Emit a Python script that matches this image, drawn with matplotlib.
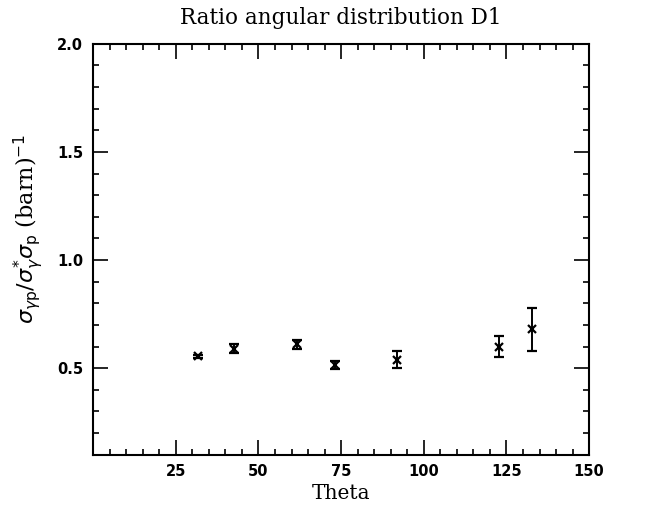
import numpy as np
import matplotlib.pyplot as plt
from matplotlib.ticker import MultipleLocator

# data
theta = [31.6, 42.7, 61.6, 73.1, 91.8, 122.8, 132.6]
ratio = [0.555, 0.59, 0.61, 0.515, 0.54, 0.60, 0.68]
err = [0.008, 0.02, 0.02, 0.02, 0.04, 0.05, 0.10]

xticks = [25, 50, 75, 100, 125, 150]
yticks = [0.5, 1.0, 1.5, 2.0]

fig = plt.figure(figsize=(6.51, 5.15), dpi=100)
ax = fig.add_axes([0.143, 0.117, 0.762, 0.798])

ax.errorbar(theta, ratio, yerr=err, fmt='x', color='black', ms=6, mew=1.6,
            elinewidth=1.4, capsize=3.5, capthick=1.4)

ax.set_xlim(0, 150)
ax.set_ylim(0.1, 2.0)
ax.set_xticks(xticks)
ax.set_yticks(yticks)
ax.set_yticklabels(['%.1f' % v for v in yticks])
ax.xaxis.set_minor_locator(MultipleLocator(5))
ax.yaxis.set_minor_locator(MultipleLocator(0.1))
ax.tick_params(which='both', direction='in', top=True, right=True, width=1.2)
ax.tick_params(which='major', length=11, labelsize=10.5, pad=7)
ax.tick_params(which='minor', length=4.5)
for lbl in ax.get_xticklabels() + ax.get_yticklabels():
    lbl.set_fontweight('bold')
for s in ax.spines.values():
    s.set_linewidth(1.5)

ax.set_title('Ratio angular distribution D1', fontsize=15.5, family='DejaVu Serif', pad=14)
ax.set_xlabel('Theta', fontsize=14.5, family='DejaVu Serif', labelpad=3)
ax.set_ylabel(r'$\sigma_{\gamma \mathrm{p}}/\sigma_{\gamma}^{*}\sigma_{\mathrm{p}}$ (barn)$^{-1}$',
              fontsize=16, family='DejaVu Serif')
ax.yaxis.set_label_coords(-0.095, 0.55)

fig.savefig('out.png', dpi=100)
